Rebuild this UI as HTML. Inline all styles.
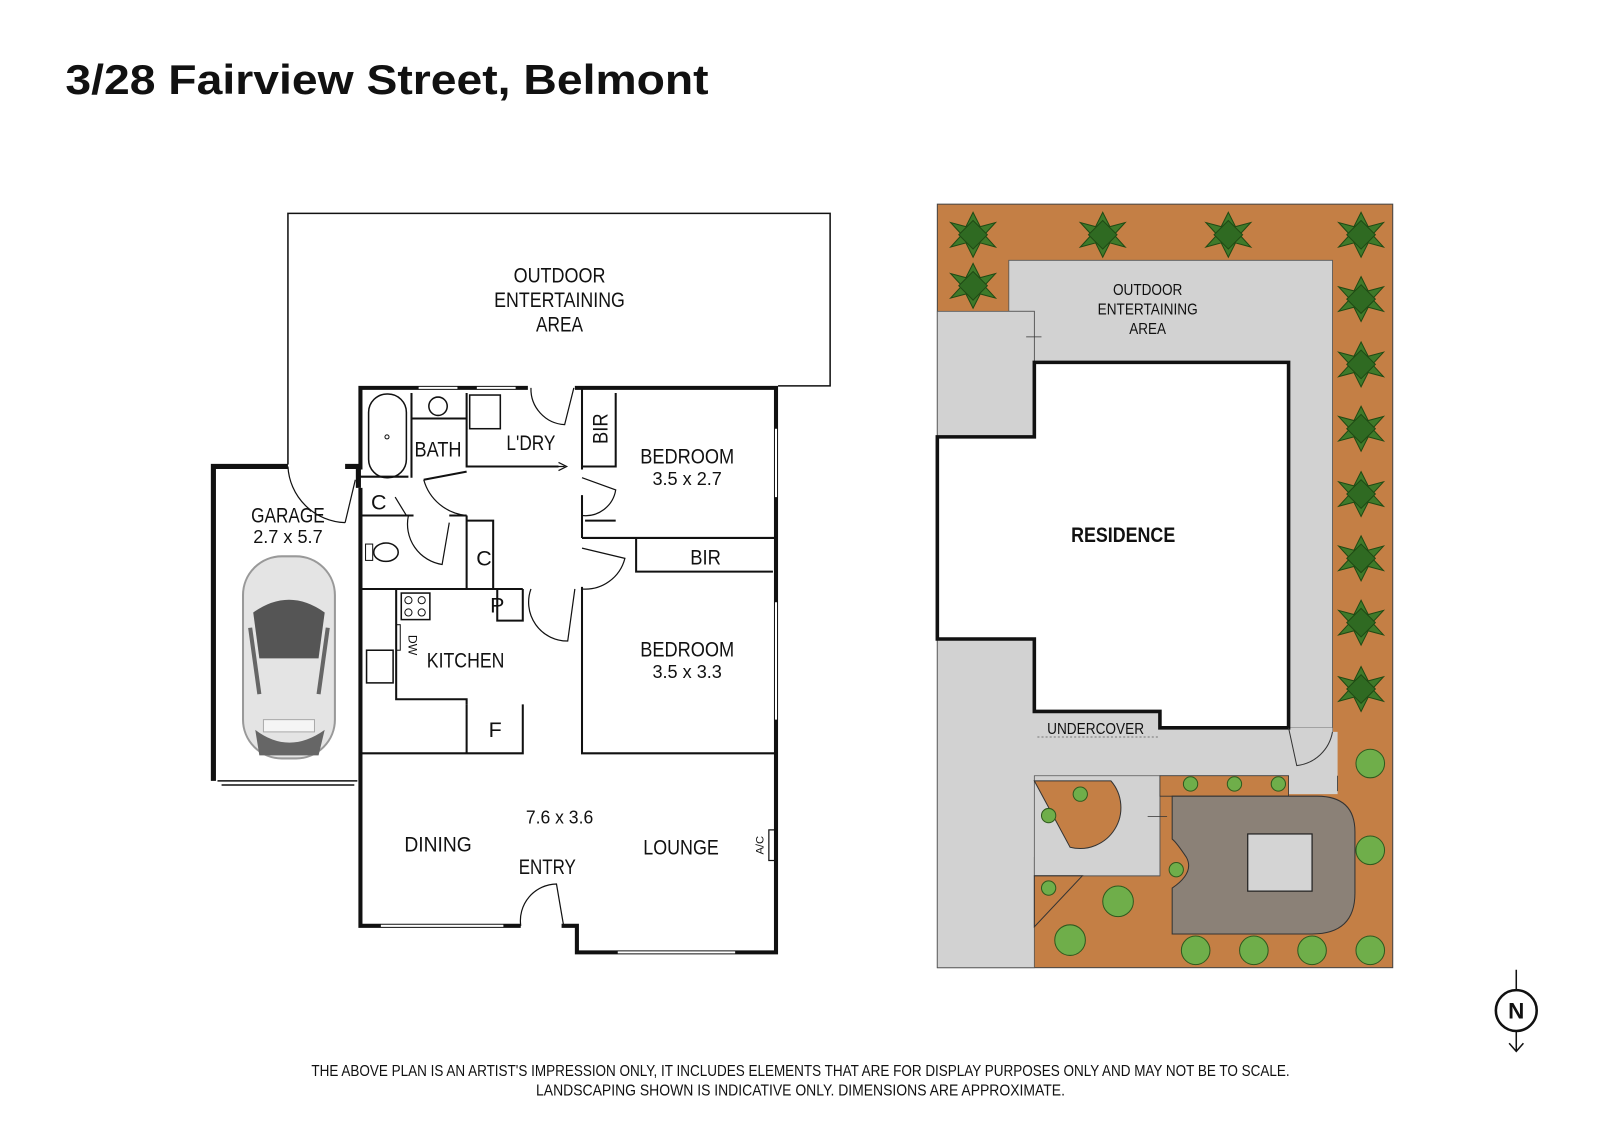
<!DOCTYPE html>
<html><head><meta charset="utf-8"><style>
html,body{margin:0;padding:0;background:#fff;}
svg{display:block}
text{font-family:"Liberation Sans",sans-serif;fill:#111}
.l{font-size:21px;text-anchor:middle}
.s{font-size:18px;text-anchor:middle}
</style></head><body>
<svg width="1600" height="1131" viewBox="0 0 1567 1108" preserveAspectRatio="none" xmlns="http://www.w3.org/2000/svg">
<defs>
<g id="p"><path d="M0 -22 L7 -8 L22 -12 L11 0 L22 12 L7 8 L0 22 L-7 8 L-22 12 L-11 0 L-22 -12 L-7 -8 Z"/><path d="M0 -14 L14 0 L0 14 L-14 0 Z" fill="#2f6a22"/></g>
</defs>
<text x="64" y="92" style="font-size:41px;font-weight:bold" textLength="630" lengthAdjust="spacingAndGlyphs">3/28 Fairview Street, Belmont</text>

<!-- FLOOR PLAN -->
<g fill="none" stroke="#111">
<path d="M282 455 V209 H813 V378 H762" stroke-width="1.5"/>
<path d="M209 765 V457 H282 M338 457 H351 V478" stroke-width="5"/>
<path d="M282 457 A58 58 0 0 0 338 512 M338 512 L348 470" stroke-width="1.2"/>
<path d="M213 765 H350 M217 769 H347" stroke-width="1.5"/>
<path d="M353 478 V907 H510 M550 907 H565 V933 H760 V380 H563 M517 380 H353 V460" stroke-width="4"/>
<path d="M373 907 H493 M605 933 H720 M760 420 V487 M760 590 V705" stroke="#fff" stroke-width="2"/>
<path d="M410 380 H448 M467 380 H505" stroke="#fff" stroke-width="2"/>
<g stroke-width="2">
<path d="M353 467 H400 M403 385 V468 M403 410 H457 M457 385 V457 H547 M570 457 H603 V385"/>
<path d="M353 505 H405 M353 577 H512 M457 505 V577 M457 510 H483 V577 M487 577 V608 H512 V577"/>
<path d="M570 380 V460 M570 485 V527 M570 575 V738 H760 M570 527 H760 M623 527 V560 H757"/>
<path d="M353 738 H457 M457 738 V690 M457 738 H512 V690"/>
<path d="M388 577 V685 H457 V690"/>
<path d="M415 470 L457 462 M440 505 L457 505 M573 510 L603 510"/>
</g>
<g stroke-width="1.2">
<path d="M520 380 A35 35 0 0 0 553 416 L562 380"/>
<path d="M415 470 A48 48 0 0 0 457 505"/>
<path d="M387 487 L398 505 M400 505 A40 40 0 0 0 433 553 L440 512"/>
<path d="M570 468 L603 480 A30 30 0 0 1 570 505"/>
<path d="M570 537 L612 547 A40 40 0 0 1 570 577"/>
<path d="M520 577 A38 38 0 0 0 556 628 L563 577"/>
<path d="M510 907 A36 36 0 0 1 545 866 L552 907"/>
<path d="M505 457 H553 M547 453 L555 457 L547 461"/>
</g>
<rect x="361" y="386" width="37" height="82" rx="18" stroke-width="1.5"/>
<circle cx="379" cy="428" r="2" stroke-width="1"/>
<circle cx="429" cy="398" r="9" stroke-width="1.5"/>
<rect x="460" y="387" width="30" height="33" stroke-width="1.5"/>
<rect x="358" y="533" width="7" height="16" stroke-width="1"/>
<ellipse cx="378" cy="541" rx="12" ry="9" stroke-width="1.5"/>
<rect x="393" y="581" width="28" height="26" stroke-width="1.5"/>
<circle cx="400" cy="588" r="3.5"/><circle cx="413" cy="588" r="3.5"/><circle cx="400" cy="600" r="3.5"/><circle cx="413" cy="600" r="3.5"/>
<rect x="359" y="637" width="26" height="32" stroke-width="1.5"/>
<rect x="388" y="612" width="4" height="25" stroke-width="1"/>
<rect x="753" y="813" width="7" height="30" stroke-width="1.2"/>
</g>
<g>
<rect x="238" y="545" width="90" height="198" rx="38" fill="#e4e4e4" stroke="#999" stroke-width="2"/>
<path d="M248 600 Q283 575 318 600 L312 645 H254 Z" fill="#555"/>
<path d="M245 615 L254 680 M321 615 L312 680" stroke="#666" stroke-width="4"/>
<path d="M250 715 Q283 740 318 715 L312 740 H254 Z" fill="#666"/>
<rect x="258" y="705" width="50" height="12" fill="#f5f5f5" stroke="#aaa"/>
</g>
<text class="l" x="548" y="277" textLength="90" lengthAdjust="spacingAndGlyphs">OUTDOOR</text>
<text class="l" x="548" y="301" textLength="128" lengthAdjust="spacingAndGlyphs">ENTERTAINING</text>
<text class="l" x="548" y="325" textLength="46" lengthAdjust="spacingAndGlyphs">AREA</text>
<text class="l" x="282" y="512" textLength="72" lengthAdjust="spacingAndGlyphs">GARAGE</text>
<text class="s" x="282" y="532" textLength="68" lengthAdjust="spacingAndGlyphs">2.7 x 5.7</text>
<text class="l" x="429" y="447" textLength="46" lengthAdjust="spacingAndGlyphs">BATH</text>
<text class="l" x="520" y="441" textLength="48" lengthAdjust="spacingAndGlyphs">L'DRY</text>
<text class="l" x="595" y="420" transform="rotate(-90 595 420)" textLength="30" lengthAdjust="spacingAndGlyphs">BIR</text>
<text class="l" x="673" y="454" textLength="92" lengthAdjust="spacingAndGlyphs">BEDROOM</text>
<text class="s" x="673" y="475" textLength="68" lengthAdjust="spacingAndGlyphs">3.5 x 2.7</text>
<text class="l" x="371" y="499">C</text>
<text class="l" x="474" y="554">C</text>
<text class="l" x="691" y="553" textLength="30" lengthAdjust="spacingAndGlyphs">BIR</text>
<text class="l" x="487" y="600">P</text>
<text class="s" x="407" y="625" style="font-size:12px" transform="rotate(90 400 625)">DW</text>
<text class="l" x="456" y="654" textLength="76" lengthAdjust="spacingAndGlyphs">KITCHEN</text>
<text class="l" x="673" y="643" textLength="92" lengthAdjust="spacingAndGlyphs">BEDROOM</text>
<text class="s" x="673" y="664" textLength="68" lengthAdjust="spacingAndGlyphs">3.5 x 3.3</text>
<text class="l" x="485" y="722">F</text>
<text class="s" x="548" y="807" textLength="66" lengthAdjust="spacingAndGlyphs">7.6 x 3.6</text>
<text class="l" x="429" y="834" textLength="66" lengthAdjust="spacingAndGlyphs">DINING</text>
<text class="l" x="667" y="837" textLength="74" lengthAdjust="spacingAndGlyphs">LOUNGE</text>
<text class="l" x="536" y="856" textLength="56" lengthAdjust="spacingAndGlyphs">ENTRY</text>
<text x="748" y="828" style="font-size:11px;text-anchor:middle" transform="rotate(-90 748 828)">A/C</text>

<!-- SITE PLAN -->
<rect x="918" y="200" width="446" height="748" fill="#c47f45"/>
<rect x="918" y="200" width="446" height="748" fill="none" stroke="#444" stroke-width="1"/>
<g fill="#d2d2d2" stroke="#555" stroke-width="0.8">
<path d="M988 255 H1305 V717 H1262 V355 H1013 V305 H988 Z"/>
<rect x="918" y="305" width="95" height="123"/>
<path d="M918 626 H1013 V697 H1262 V713 H1305 V760 H1136 V858 H1060 L1060 840 H1013 V948 H918 Z"/>
<path d="M1013 760 H1136 V858 H1013 Z"/>
</g>
<path d="M1262 713 H1305 V717 L1310 717 V778 H1262 Z" fill="#d2d2d2"/>
<path d="M1013 765 H1088 A40 40 0 0 1 1048 830 Z" fill="#c47f45" stroke="#333" stroke-width="1"/>
<path d="M1013 858 H1060 L1013 908 Z" fill="#c47f45" stroke="#333" stroke-width="1"/>
<path d="M1136 760 H1262 V780 H1136 Z" fill="#c47f45" stroke="#333" stroke-width="0.8"/>
<path d="M1148 780 H1290 Q1327 780 1327 815 V875 Q1327 915 1285 915 H1148 V870 Q1170 855 1162 840 Q1152 825 1148 822 Z" fill="#8b8177" stroke="#333" stroke-width="1"/>
<rect x="1222" y="817" width="63" height="56" fill="#d4d4d4" stroke="#222" stroke-width="1.2"/>
<path d="M1013 428 V355 H1262 V713 H1136 V697 H1013 V626 H918 V428 Z" fill="#fff" stroke="#111" stroke-width="3.5"/>
<path d="M1016 722 H1134" stroke="#777" stroke-dasharray="2 2" stroke-width="1"/>
<path d="M1262 713 L1270 750 A40 40 0 0 0 1305 717" fill="none" stroke="#333" stroke-width="1"/>
<path d="M1005 330 H1020 M1124 800 H1143 M1310 760 V775" stroke="#333" stroke-width="0.8"/>
<g font-size="15" text-anchor="middle">
<text x="1124" y="289" textLength="68" lengthAdjust="spacingAndGlyphs">OUTDOOR</text>
<text x="1124" y="308" textLength="98" lengthAdjust="spacingAndGlyphs">ENTERTAINING</text>
<text x="1124" y="327" textLength="36" lengthAdjust="spacingAndGlyphs">AREA</text>
<text x="1073" y="719" textLength="95" lengthAdjust="spacingAndGlyphs">UNDERCOVER</text>
</g>
<text x="1100" y="531" style="font-size:21px;font-weight:bold;text-anchor:middle" textLength="102" lengthAdjust="spacingAndGlyphs">RESIDENCE</text>
<g fill="#3f7a2a" stroke="#1f4a14" stroke-width="1">
<use href="#p" x="953" y="230"/><use href="#p" x="953" y="280"/><use href="#p" x="1080" y="230"/><use href="#p" x="1203" y="230"/>
<use href="#p" x="1333" y="230"/><use href="#p" x="1333" y="293"/><use href="#p" x="1333" y="357"/><use href="#p" x="1333" y="420"/>
<use href="#p" x="1333" y="484"/><use href="#p" x="1333" y="547"/><use href="#p" x="1333" y="610"/><use href="#p" x="1333" y="675"/>
</g>
<g fill="#6fae4a" stroke="#2f5a1e" stroke-width="1">
<circle cx="1342" cy="748" r="14"/><circle cx="1342" cy="833" r="14"/><circle cx="1342" cy="931" r="14"/>
<circle cx="1285" cy="931" r="14"/><circle cx="1228" cy="931" r="14"/><circle cx="1171" cy="931" r="14"/>
<circle cx="1048" cy="921" r="15"/><circle cx="1095" cy="883" r="15"/>
<circle cx="1166" cy="768" r="7"/><circle cx="1209" cy="768" r="7"/><circle cx="1252" cy="768" r="7"/>
<circle cx="1058" cy="778" r="7"/><circle cx="1027" cy="799" r="7"/><circle cx="1027" cy="870" r="7"/><circle cx="1152" cy="852" r="7"/>
</g>
<g stroke="#111" fill="none">
<path d="M1485 950 V1030 M1478 1022 L1485 1030 L1492 1022" stroke-width="1.5"/>
<circle cx="1485" cy="990" r="20" fill="#fff" stroke-width="2.5"/>
</g>
<text x="1485" y="998" style="font-size:22px;font-weight:bold;text-anchor:middle">N</text>
<text x="784" y="1054" style="font-size:15px;text-anchor:middle" textLength="958" lengthAdjust="spacingAndGlyphs">THE ABOVE PLAN IS AN ARTIST'S IMPRESSION ONLY, IT INCLUDES ELEMENTS THAT ARE FOR DISPLAY PURPOSES ONLY AND MAY NOT BE TO SCALE.</text>
<text x="784" y="1073" style="font-size:15px;text-anchor:middle" textLength="518" lengthAdjust="spacingAndGlyphs">LANDSCAPING SHOWN IS INDICATIVE ONLY. DIMENSIONS ARE APPROXIMATE.</text>
</svg>
</body></html>
